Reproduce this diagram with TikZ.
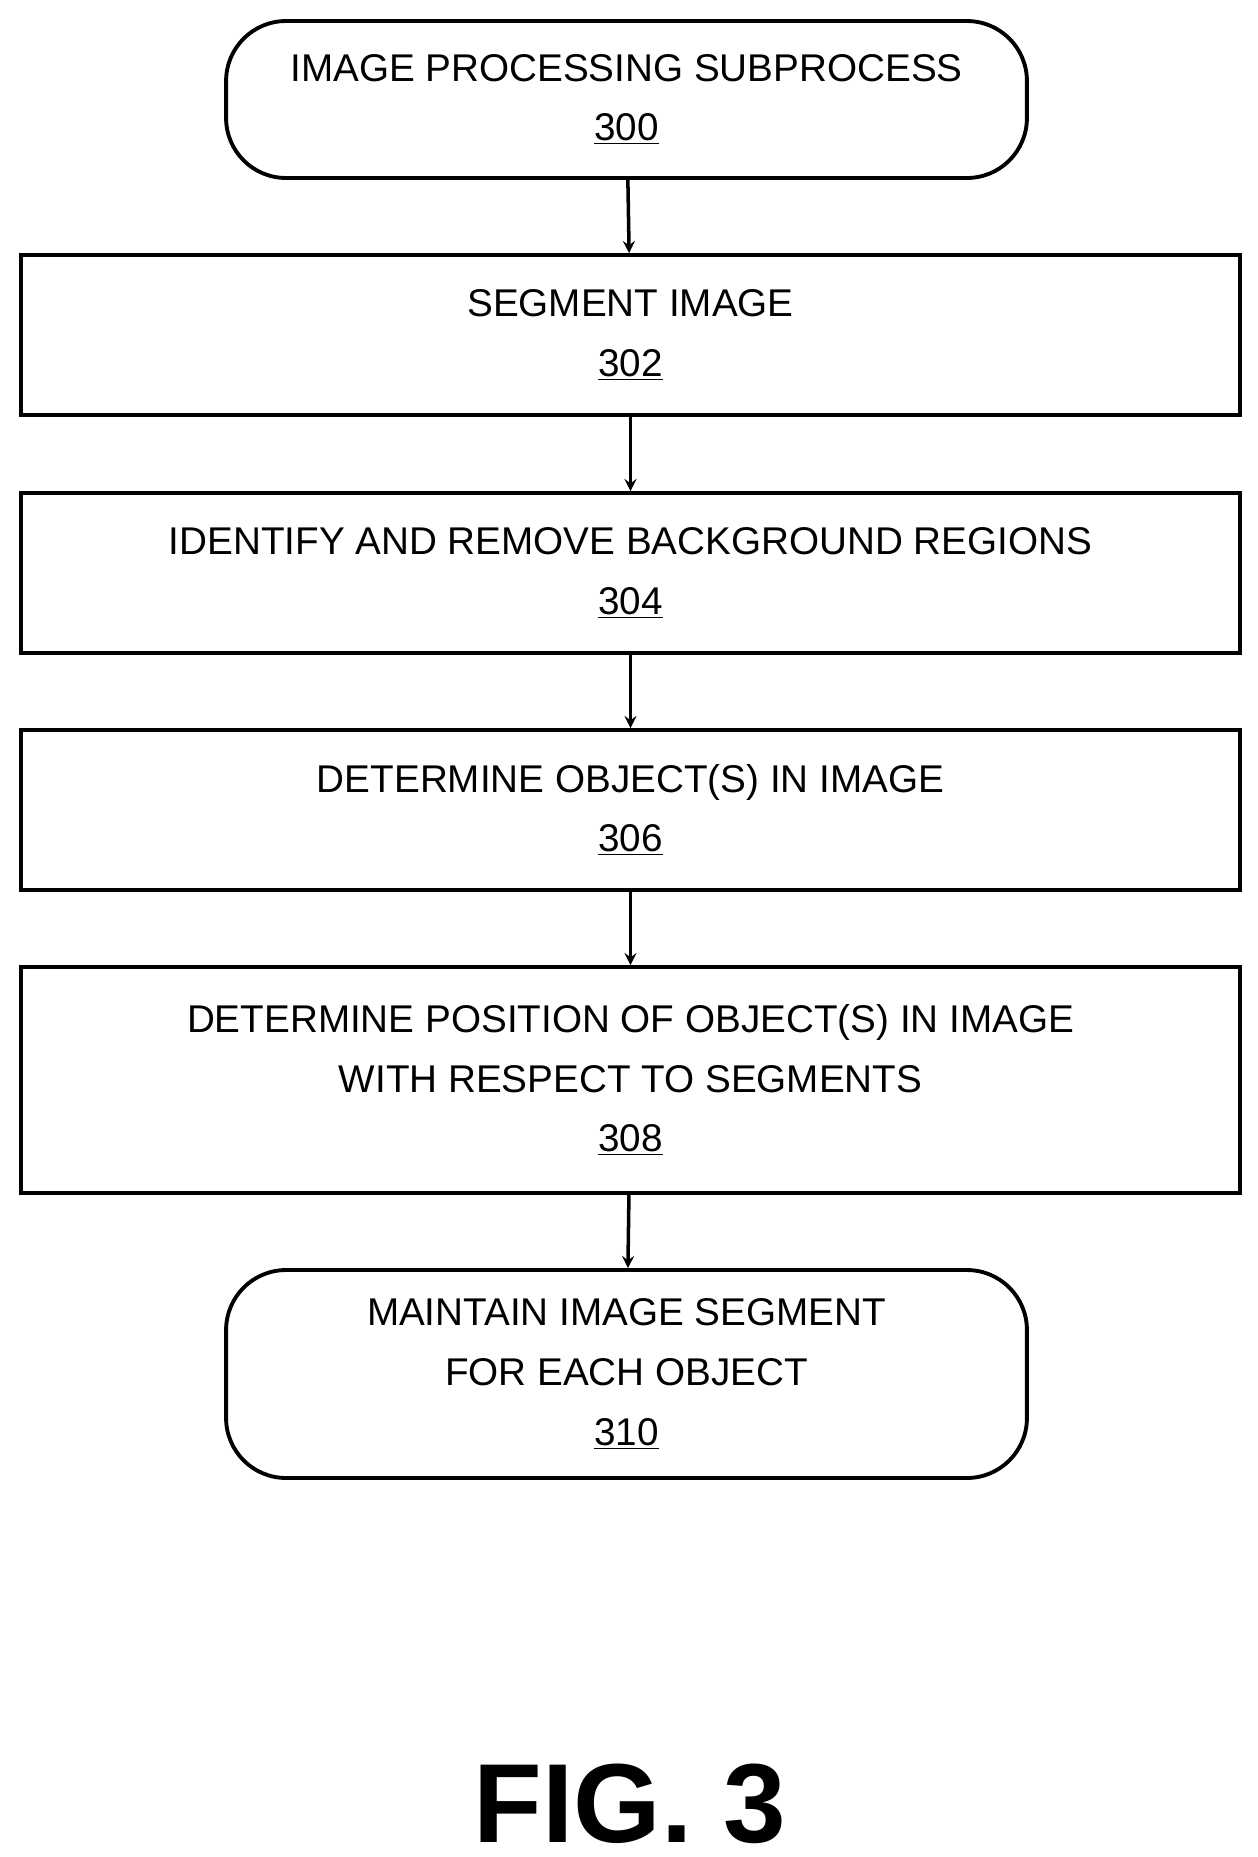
\documentclass[tikz,border=0pt]{standalone}
\usepackage{fontspec}
\setmainfont{Liberation Sans}
\usetikzlibrary{positioning}

\tikzset{
  procbox/.style={draw, line width=2.2pt, minimum width=24.38cm, align=center,
    font=\fontsize{22}{34}\selectfont, inner sep=0pt},
  termbox/.style={procbox, rounded corners=1.2cm, minimum width=16.02cm},
  flow/.style={->, line width=2pt, >=stealth}
}

\begin{document}
\begin{tikzpicture}[x=0.02cm, y=-0.02cm]
  \useasboundingbox (0,0) rectangle (1258,1857);

  % Steps
  \node[termbox, minimum height=3.14cm] (s300) at (626.5,99.5) {IMAGE PROCESSING SUBPROCESS\\\underline{300}};
  \node[procbox, minimum height=3.2cm] (s302) at (630.5,335) {SEGMENT IMAGE\\\underline{302}};
  \node[procbox, minimum height=3.2cm] (s304) at (630.5,573) {IDENTIFY AND REMOVE BACKGROUND REGIONS\\\underline{304}};
  \node[procbox, minimum height=3.2cm] (s306) at (630.5,810) {DETERMINE OBJECT(S) IN IMAGE\\\underline{306}};
  \node[procbox, minimum height=4.52cm] (s308) at (630.5,1080) {DETERMINE POSITION OF OBJECT(S) IN IMAGE\\WITH RESPECT TO SEGMENTS\\\underline{308}};
  \node[termbox, minimum height=4.16cm] (s310) at (626.5,1374) {MAINTAIN IMAGE SEGMENT\\FOR EACH OBJECT\\\underline{310}};

  % Arrows
  \draw[flow] (s300) -- (s302);
  \draw[flow] (s302) -- (s304);
  \draw[flow] (s304) -- (s306);
  \draw[flow] (s306) -- (s308);
  \draw[flow] (s308) -- (s310);

  % Caption
  \node[font=\fontsize{64}{70}\selectfont\bfseries] (fig) at (630,1804) {FIG. 3};
\end{tikzpicture}
\end{document}
